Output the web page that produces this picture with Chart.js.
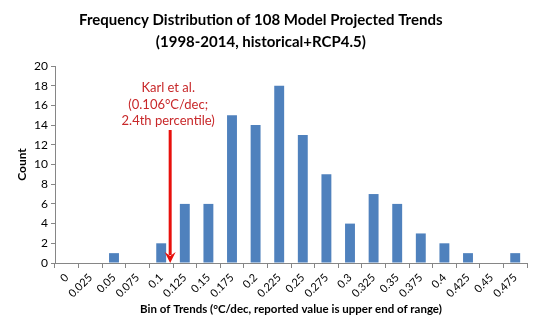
<!DOCTYPE html>
<html>
<head>
<meta charset="utf-8">
<script src="https://cdn.jsdelivr.net/npm/chart.js@4"></script>
<style>
  html, body { margin: 0; padding: 0; background: #fff; }
  #wrap { width: 540px; height: 334px; }
</style>
</head>
<body>
<div id="wrap"><canvas id="trendChart" width="540" height="334"></canvas></div>
<script>
// bins (upper end of range, °C/dec) and model counts
const bins = ['0', '0.025', '0.05', '0.075', '0.1', '0.125', '0.15', '0.175', '0.2', '0.225',
  '0.25', '0.275', '0.3', '0.325', '0.35', '0.375', '0.4', '0.425', '0.45', '0.475'];
const counts = [0, 0, 1, 0, 2, 6, 6, 15, 14, 18, 13, 9, 4, 7, 6, 3, 2, 1, 0, 1];

const titleLines = ['Frequency Distribution of 108 Model Projected Trends', '(1998-2014, historical+RCP4.5)'];
const xTitle = 'Bin of Trends (°C/dec, reported value is upper end of range)';
const yTitle = 'Count';

// Karl et al. marker
const karlLines = ['Karl et al.', '(0.106°C/dec;', '2.4th percentile)'];
const karlPos = 4.38;      // position along the bin axis
const karlArrowTop = 13.5; // count level where the arrow starts

const fontFamily = 'Lato, "Open Sans", sans-serif';

const overlay = {
  id: 'overlay',
  afterDraw(chart) {
    const ctx = chart.ctx;
    const x = chart.scales.x;
    const y = chart.scales.y;
    const area = chart.chartArea;
    ctx.save();

    // main title
    ctx.fillStyle = '#000';
    ctx.textAlign = 'center';
    ctx.textBaseline = 'middle';
    ctx.font = 'bold 15px ' + fontFamily;
    ctx.fillText(titleLines[0], chart.width * 0.483, 20);
    ctx.fillText(titleLines[1], chart.width * 0.483, 42);

    // x axis title
    ctx.font = 'bold 11.5px ' + fontFamily;
    ctx.fillText(xTitle, (area.left + area.right) / 2, 309);

    // arrow
    const i = Math.floor(karlPos);
    const step = x.getPixelForValue(i + 1) - x.getPixelForValue(i);
    const ax = x.getPixelForValue(i) + (karlPos - i) * step;
    const top = y.getPixelForValue(karlArrowTop);
    const tip = y.getPixelForValue(0);
    ctx.strokeStyle = '#e8100c';
    ctx.fillStyle = '#e8100c';
    ctx.lineWidth = 3;
    ctx.beginPath();
    ctx.moveTo(ax, top);
    ctx.lineTo(ax, tip - 8);
    ctx.stroke();
    ctx.beginPath();
    ctx.moveTo(ax - 5.5, tip - 11);
    ctx.lineTo(ax, tip);
    ctx.lineTo(ax + 5.5, tip - 11);
    ctx.lineTo(ax, tip - 7);
    ctx.closePath();
    ctx.fill();

    // label
    ctx.fillStyle = '#c8282a';
    ctx.font = '13px ' + fontFamily;
    karlLines.forEach((line, k) => {
      ctx.fillText(line, ax - 2, top - 42 + k * 16.5);
    });

    ctx.restore();
  }
};

new Chart(document.getElementById('trendChart'), {
  type: 'bar',
  data: {
    labels: bins,
    datasets: [{
      label: 'Count',
      data: counts,
      backgroundColor: '#4f81bd',
      borderWidth: 0,
      barPercentage: 0.42,
      categoryPercentage: 1
    }]
  },
  options: {
    responsive: false,
    animation: false,
    layout: { padding: { top: 66, right: 13, left: 0, bottom: 0 } },
    plugins: {
      legend: { display: false },
      tooltip: { enabled: false }
    },
    scales: {
      x: {
        offset: true,
        grid: {
          offset: true,
          drawOnChartArea: false,
          drawTicks: true,
          tickLength: 5,
          color: '#868686'
        },
        border: { color: '#868686' },
        ticks: {
          minRotation: 45,
          maxRotation: 45,
          autoSkip: false,
          color: '#000',
          font: { family: fontFamily, size: 11 }
        },
        afterFit(scale) { scale.height = 71; }
      },
      y: {
        min: 0,
        max: 20,
        ticks: {
          stepSize: 2,
          color: '#000',
          padding: 3,
          font: { family: fontFamily, size: 12 }
        },
        grid: {
          drawOnChartArea: false,
          drawTicks: true,
          tickLength: 4,
          color: '#868686'
        },
        border: { color: '#868686' },
        title: {
          display: true,
          text: yTitle,
          color: '#000',
          font: { family: fontFamily, size: 12, weight: 'bold' },
          padding: { top: 15, bottom: 0 }
        },
        afterFit(scale) { scale.width = 55; }
      }
    }
  },
  plugins: [overlay]
});
</script>
</body>
</html>
